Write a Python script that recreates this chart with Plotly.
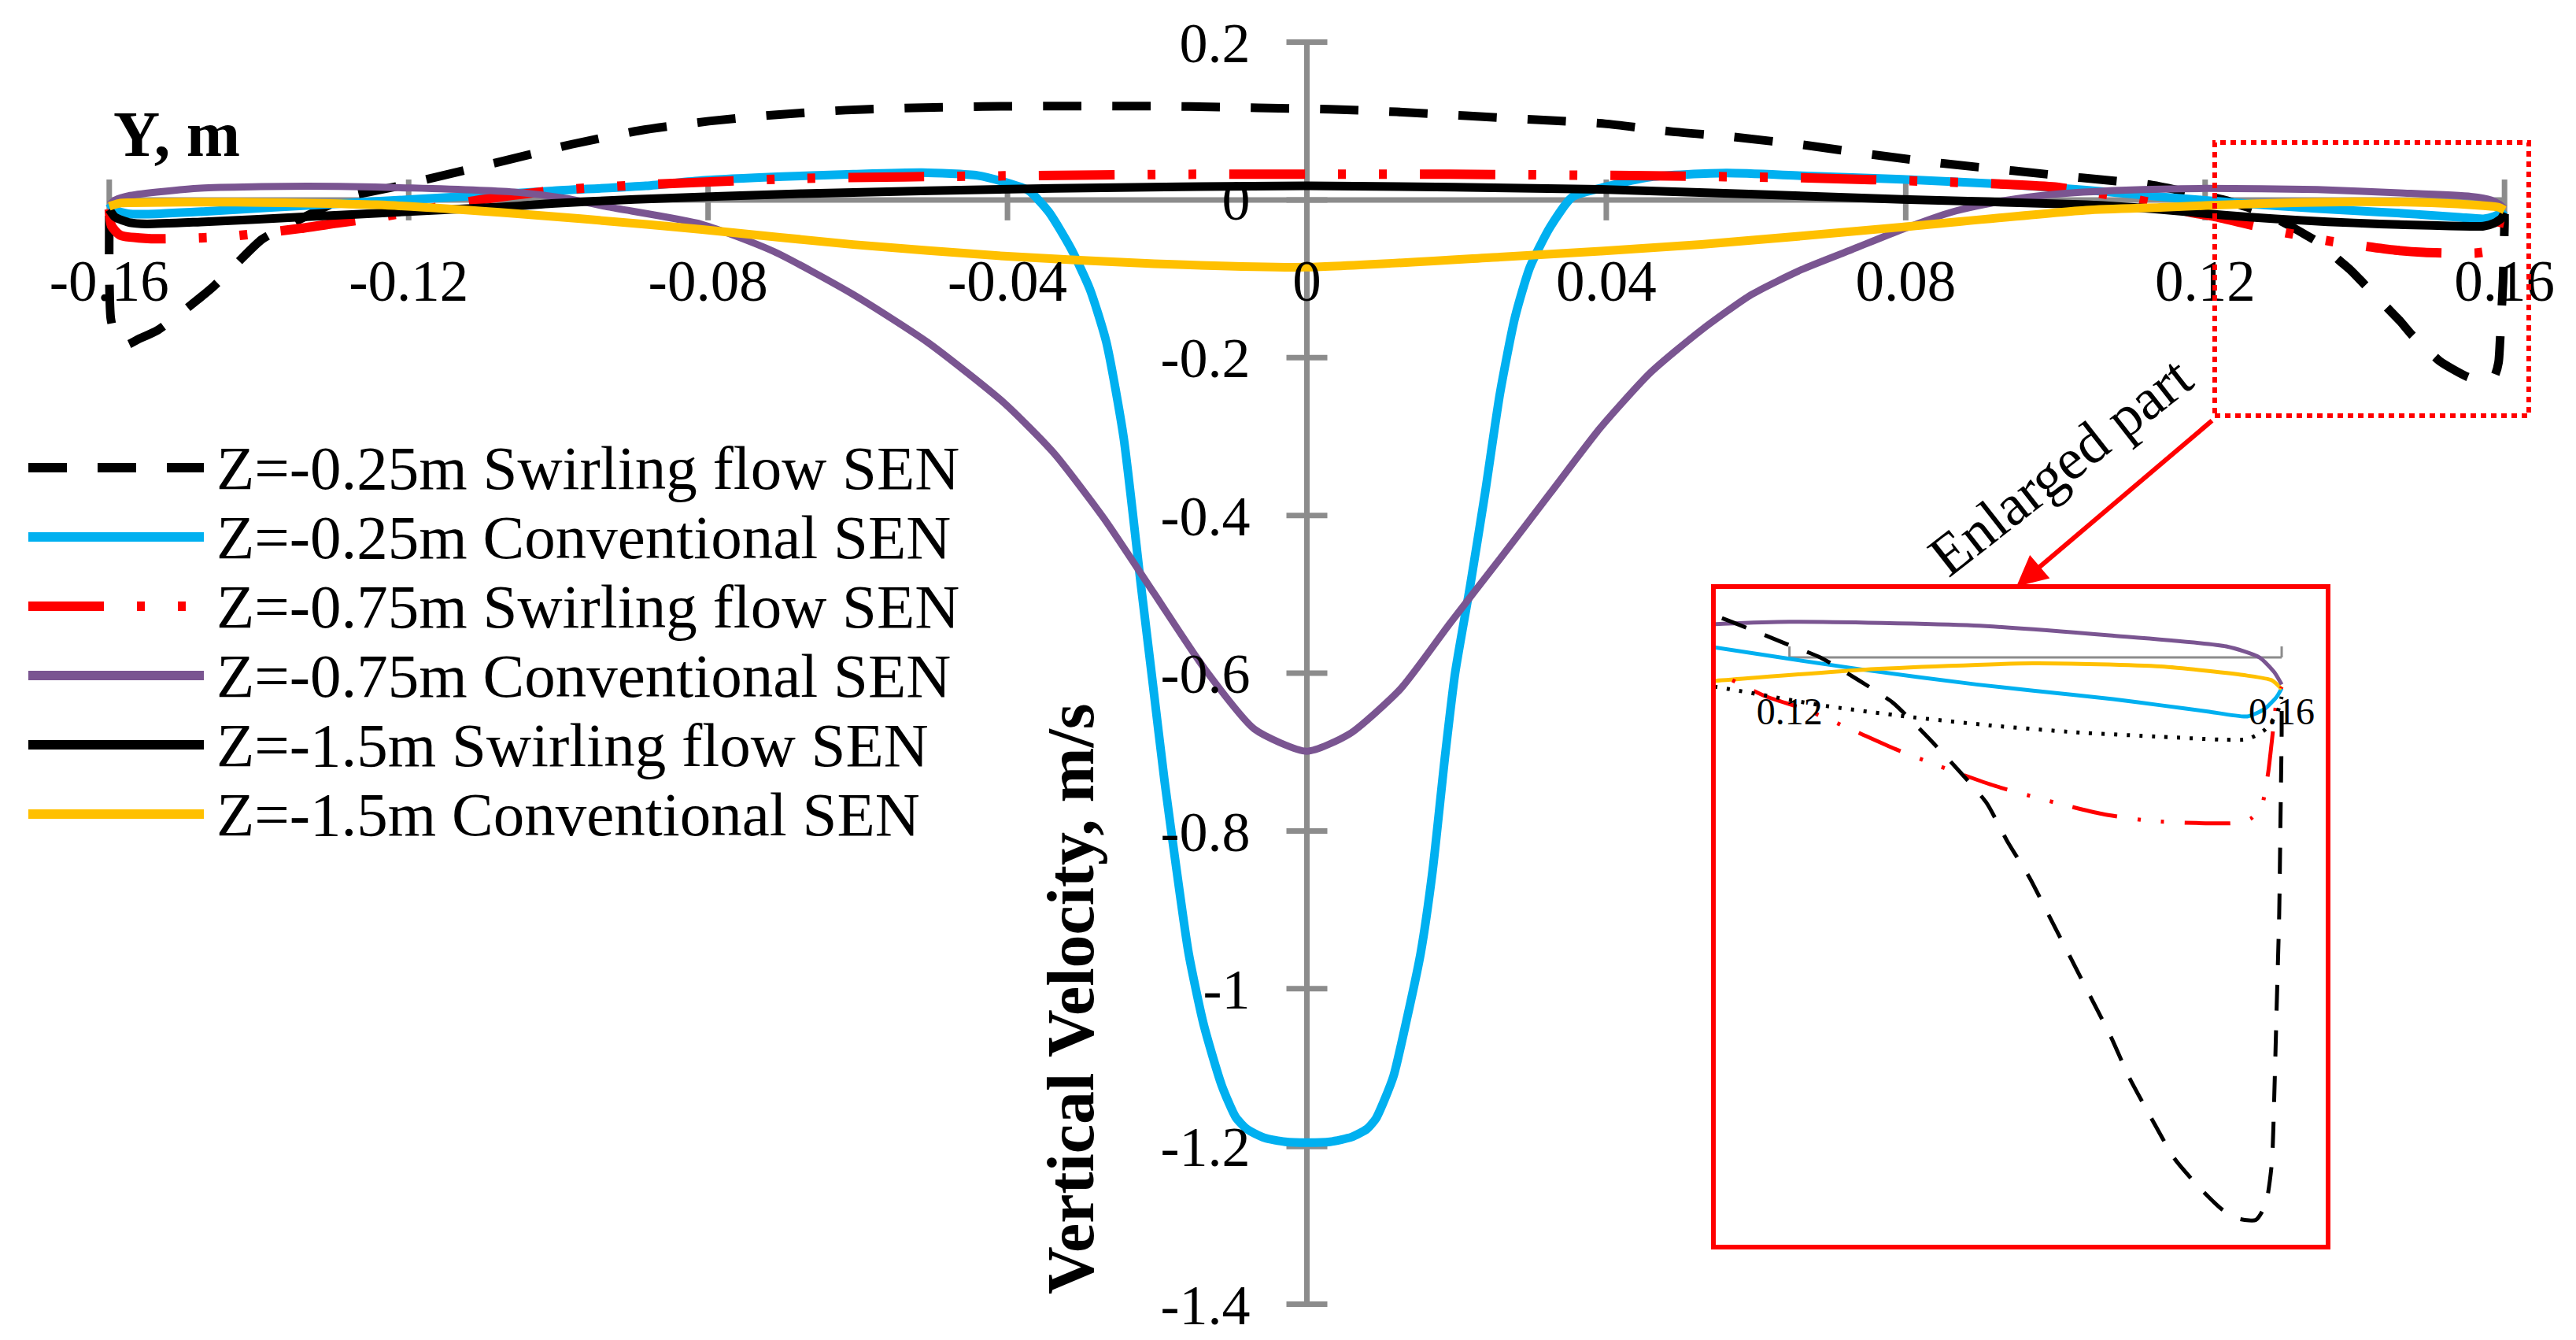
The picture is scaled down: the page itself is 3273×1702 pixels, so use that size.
import plotly.graph_objects as go

# ---------------- data ----------------
series_names = [
    "Z=-0.25m Swirling flow SEN",
    "Z=-0.25m Conventional SEN",
    "Z=-0.75m Swirling flow SEN",
    "Z=-0.75m Conventional SEN",
    "Z=-1.5m Swirling flow SEN",
    "Z=-1.5m Conventional SEN",
]

x_sw025 = [-0.16, -0.16, -0.1598, -0.1592, -0.1578, -0.1562, -0.1535, -0.1501, -0.1461, -0.143, -0.1396,
           -0.134, -0.128, -0.1216, -0.1163, -0.1072, -0.0982, -0.0891, -0.0799, -0.0708, -0.0616, -0.0525,
           -0.0433, -0.0341, -0.0249, -0.0157, -0.0065, 0.003, 0.012, 0.0213, 0.0306, 0.0398, 0.0487, 0.0568,
           0.0669, 0.0759, 0.0852, 0.0943, 0.1035, 0.1128, 0.1197, 0.1225, 0.1256, 0.1284, 0.1312, 0.1336,
           0.136, 0.1377, 0.1395, 0.1412, 0.1429, 0.1445, 0.1461, 0.1476, 0.1494, 0.1513, 0.1532, 0.1551,
           0.1565, 0.1579, 0.1587, 0.1592, 0.1594, 0.1596, 0.1598, 0.1599, 0.16, 0.16]
y_sw025 = [-0.02, -0.09, -0.15, -0.172, -0.184, -0.177, -0.165, -0.141, -0.11, -0.081, -0.05,
           -0.022, 0.004, 0.017, 0.029, 0.0497, 0.0705, 0.088, 0.0998, 0.108, 0.1138, 0.1167,
           0.1184, 0.119, 0.119, 0.1184, 0.1167, 0.115, 0.1116, 0.1066, 0.1016, 0.0966, 0.0866, 0.08,
           0.069, 0.057, 0.046, 0.037, 0.028, 0.019, 0.0056, 0.0, -0.0092, -0.0184, -0.0323, -0.0452,
           -0.0591, -0.0748, -0.0896, -0.1062, -0.1228, -0.1385, -0.1542, -0.1709, -0.1875, -0.2041, -0.2152, -0.2245,
           -0.2285, -0.229, -0.2226, -0.206, -0.1783, -0.1413, -0.1044, -0.0674, -0.0305, -0.018]

x_cv025 = [-0.16, -0.1592, -0.1575, -0.1548, -0.147, -0.1384, -0.129, -0.1195, -0.11, -0.1008, -0.0883,
           -0.0808, -0.07, -0.0606, -0.0514, -0.044, -0.0405, -0.0372, -0.0345, -0.0315, -0.029, -0.0268,
           -0.0245, -0.0222, -0.0206, -0.019, -0.0174, -0.0158, -0.0138, -0.0114, -0.0095, -0.008, -0.0057,
           -0.0029, 0.0, 0.0031, 0.006, 0.008, 0.0092, 0.0104, 0.0116, 0.0132, 0.0152, 0.0168, 0.0184,
           0.0198, 0.0218, 0.0238, 0.0258, 0.0278, 0.0298, 0.0325, 0.0355, 0.0399, 0.0459, 0.056, 0.0661,
           0.0795, 0.0929, 0.1041, 0.114, 0.126, 0.1352, 0.1398, 0.1463, 0.1502, 0.154, 0.1572, 0.1586,
           0.1596, 0.16]
y_cv025 = [-0.004, -0.013, -0.0175, -0.018, -0.0145, -0.0096, -0.0045, 0.0006, 0.0058, 0.0115, 0.0178,
           0.0245, 0.0295, 0.0325, 0.0345, 0.031, 0.0229, 0.012, -0.015, -0.062, -0.113, -0.18,
           -0.30, -0.486, -0.612, -0.738, -0.85, -0.955, -1.045, -1.122, -1.163, -1.178, -1.189,
           -1.194, -1.195, -1.194, -1.188, -1.178, -1.165, -1.14, -1.11, -1.045, -0.955, -0.85, -0.71,
           -0.60, -0.49, -0.372, -0.245, -0.149, -0.0853, -0.0344, 0.0038, 0.0165, 0.029, 0.034, 0.0306,
           0.026, 0.02, 0.0125, 0.004, -0.005, -0.011, -0.0135, -0.017, -0.0195, -0.022, -0.024, -0.021,
           -0.016, -0.0125]

x_sw075 = [-0.16, -0.1597, -0.1585, -0.1544, -0.1492, -0.1441, -0.1344, -0.1295, -0.1243, -0.1155, -0.1098,
           -0.1, -0.0875, -0.0674, -0.0405, -0.0149, 0.0, 0.0191, 0.0459, 0.0661, 0.0849, 0.0996, 0.1094,
           0.114, 0.118, 0.1213, 0.1251, 0.1286, 0.1322, 0.1367, 0.1416, 0.1454, 0.1492, 0.153, 0.1561,
           0.1575, 0.1584, 0.1589, 0.1592, 0.1596, 0.16]
y_sw075 = [-0.012, -0.033, -0.045, -0.0492, -0.0486, -0.0464, -0.0361, -0.0293, -0.0226, -0.008, 0.001,
           0.0125, 0.0197, 0.0273, 0.0305, 0.0325, 0.0325, 0.0325, 0.0305, 0.028, 0.0229, 0.0166, 0.003,
           -0.006, -0.0157, -0.0212, -0.0295, -0.0373, -0.0443, -0.0523, -0.0591, -0.0637, -0.0665, -0.0674, -0.0674,
           -0.0656, -0.06, -0.047, -0.0342, -0.0175, -0.012]

x_cv075 = [-0.16, -0.1592, -0.1572, -0.1478, -0.1336, -0.1195, -0.1054, -0.099, -0.0933, -0.0808, -0.0712,
           -0.0606, -0.0506, -0.0405, -0.0338, -0.0271, -0.0204, -0.0137, -0.007, 0.0, 0.0057, 0.0125,
           0.0191, 0.0258, 0.0325, 0.0392, 0.0459, 0.0527, 0.0594, 0.0661, 0.0728, 0.0795, 0.0862, 0.0929,
           0.0996, 0.1094, 0.12, 0.135, 0.146, 0.1555, 0.1582, 0.1594, 0.16]
y_cv075 = [-0.006, 0.0, 0.0057, 0.0149, 0.0173, 0.015, 0.0095, 0.002, -0.009, -0.031, -0.0655,
           -0.12, -0.181, -0.257, -0.321, -0.404, -0.499, -0.594, -0.671, -0.699, -0.677, -0.62,
           -0.537, -0.455, -0.372, -0.289, -0.219, -0.165, -0.12, -0.0884, -0.063, -0.0375, -0.0153, -0.0013,
           0.007, 0.0124, 0.0145, 0.013, 0.009, 0.0045, 0.0, -0.006, -0.011]

x_sw15 = [-0.16, -0.1592, -0.1572, -0.155, -0.1478, -0.1336, -0.1195, -0.1054, -0.1009, -0.0898, -0.0674,
          -0.0338, 0.0, 0.0392, 0.0795, 0.1041, 0.114, 0.1225, 0.1294, 0.1364, 0.1433, 0.1502, 0.1554,
          0.1572, 0.1586, 0.1596, 0.16]
y_sw15 = [-0.012, -0.022, -0.029, -0.0305, -0.028, -0.0214, -0.0146, -0.0078, -0.0045, 0.0006, 0.008,
          0.0146, 0.0178, 0.0134, 0.0006, -0.006, -0.012, -0.0194, -0.024, -0.0277, -0.0305, -0.0323, -0.0335,
          -0.0333, -0.0296, -0.0231, -0.016]

x_cv15 = [-0.16, -0.1585, -0.1572, -0.1431, -0.1243, -0.1054, -0.0882, -0.0808, -0.0606, -0.0405, -0.0204,
          0.0, 0.0258, 0.0527, 0.0795, 0.1041, 0.114, 0.126, 0.1398, 0.1502, 0.1572, 0.1592, 0.16]
y_cv15 = [-0.008, -0.004, -0.0035, -0.0028, -0.0062, -0.0175, -0.031, -0.0376, -0.0566, -0.0713, -0.081,
          -0.0853, -0.0725, -0.0566, -0.0344, -0.013, -0.0095, -0.005, -0.0024, -0.0037, -0.0074, -0.0093, -0.0129]

x_ticks = [-0.16, -0.12, -0.08, -0.04, 0, 0.04, 0.08, 0.12, 0.16]
x_ticktext = ["-0.16", "-0.12", "-0.08", "-0.04", "0", "0.04", "0.08", "0.12", "0.16"]
y_ticks = [0.2, 0, -0.2, -0.4, -0.6, -0.8, -1.0, -1.2, -1.4]
y_ticktext = ["0.2", "0", "-0.2", "-0.4", "-0.6", "-0.8", "-1", "-1.2", "-1.4"]
inset_ticks = [0.12, 0.16]
inset_ticktext = ["0.12", "0.16"]

# ---------------- styling ----------------
W, H = 3273, 1702
FONT = "Liberation Serif, Times New Roman, serif"
GRAY = "#8c8c8c"
colors = ["#000000", "#00b0f0", "#ff0000", "#7a5591", "#000000", "#ffc000"]
dashes = ["49px,39px", "solid", "96px,42px,10px,42px,10px,42px", "solid", "solid", "solid"]
widths = [11, 11, 12, 9, 11, 11]
inset_dashes = ["33px,25px", "solid", "58px,26px,4px,26px,4px,26px", "solid", "4px,12px", "solid"]
inset_widths = [5, 5, 5, 5, 5, 5]

xs = [x_sw025, x_cv025, x_sw075, x_cv075, x_sw15, x_cv15]
ys = [y_sw025, y_cv025, y_sw075, y_cv075, y_sw15, y_cv15]

def px(x):
    return x / W

def py(y):
    return 1 - y / H

# main plot geometry (page pixels): x 0 at 1660.5, 9510.6 px/unit; y 0 at 253.9, 1001.9 px/unit
XR = [-0.163, 0.163]
YR = [-1.43, 0.23]
x_dom = [px(1660.5 + XR[0] * 9510.6), px(1660.5 + XR[1] * 9510.6)]
y_dom = [py(253.9 - YR[0] * 1001.9), py(253.9 - YR[1] * 1001.9)]

# inset geometry
IXR = [0.11401, 0.16358]
IYR = [-0.2391, 0.0279]
ix_dom = [px(2180), px(2955)]
iy_dom = [py(1581), py(748)]

fig = go.Figure()

for i in range(6):
    fig.add_trace(go.Scatter(
        x=xs[i], y=ys[i], mode="lines", name=series_names[i], showlegend=False,
        line=dict(color=colors[i], width=widths[i], dash=dashes[i], shape="spline", smoothing=0.6),
        xaxis="x", yaxis="y", hoverinfo="skip"))

inset_order = [1, 5, 3, 2, 4, 0]
for i in inset_order:
    fig.add_trace(go.Scatter(
        x=xs[i], y=ys[i], mode="lines", name=series_names[i], showlegend=False,
        line=dict(color=colors[i], width=inset_widths[i], dash=inset_dashes[i], shape="spline", smoothing=0.6),
        xaxis="x2", yaxis="y2", hoverinfo="skip"))

shapes = []
# main axis lines
shapes.append(dict(type="line", xref="x", yref="y", x0=x_ticks[0], x1=x_ticks[-1], y0=0, y1=0,
                   line=dict(color=GRAY, width=7), layer="below"))
shapes.append(dict(type="line", xref="x", yref="y", x0=0, x1=0, y0=y_ticks[-1], y1=y_ticks[0],
                   line=dict(color=GRAY, width=7), layer="below"))
for v in x_ticks:
    shapes.append(dict(type="line", xref="x", yref="y", ysizemode="pixel", yanchor=0,
                       x0=v, x1=v, y0=-26, y1=26, line=dict(color=GRAY, width=7), layer="below"))
for v in y_ticks:
    shapes.append(dict(type="line", xref="x", yref="y", xsizemode="pixel", xanchor=0,
                       x0=-26, x1=26, y0=v, y1=v, line=dict(color=GRAY, width=7), layer="below"))

# inset axis line and ticks
shapes.append(dict(type="line", xref="x2", yref="y2", x0=inset_ticks[0], x1=inset_ticks[-1], y0=0, y1=0,
                   line=dict(color=GRAY, width=3), layer="below"))
for v in inset_ticks:
    shapes.append(dict(type="line", xref="x2", yref="y2", ysizemode="pixel", yanchor=0,
                       x0=v, x1=v, y0=0, y1=14, line=dict(color=GRAY, width=3), layer="below"))

# inset frame and dotted marker box
shapes.append(dict(type="rect", xref="paper", yref="paper", x0=px(2177), x1=px(2958), y0=py(1584), y1=py(745),
                   line=dict(color="#ff0000", width=6), fillcolor="rgba(0,0,0,0)"))
shapes.append(dict(type="rect", xref="paper", yref="paper", x0=px(2814), x1=px(3213), y0=py(528), y1=py(181),
                   line=dict(color="#ff0000", width=6, dash="7px,6px"), fillcolor="rgba(0,0,0,0)"))

# manual legend
leg_y = [594, 682, 770, 858, 946, 1034]
for i in range(6):
    shapes.append(dict(type="line", xref="paper", yref="paper", x0=px(36), x1=px(259),
                       y0=py(leg_y[i]), y1=py(leg_y[i]),
                       line=dict(color=colors[i], width=12, dash=dashes[i])))

annotations = []
for i in range(6):
    annotations.append(dict(xref="paper", yref="paper", x=px(273), y=py(leg_y[i]), xanchor="left",
                            yanchor="middle", text=series_names[i], showarrow=False,
                            font=dict(family=FONT, size=79, color="black")))

annotations.append(dict(xref="paper", yref="paper", x=px(224), y=py(170), xanchor="center", yanchor="middle",
                        text="Y, m", showarrow=False,
                        font=dict(family=FONT, size=82, color="black", weight="bold")))
annotations.append(dict(xref="paper", yref="paper", x=px(1360), y=py(1269), xanchor="center", yanchor="middle",
                        text="Vertical Velocity, m/s", textangle=-90, showarrow=False,
                        font=dict(family=FONT, size=84, color="black", weight="bold")))
annotations.append(dict(xref="paper", yref="paper", x=px(2562), y=py(745), text="", showarrow=True,
                        axref="pixel", ayref="pixel", ax=250, ay=-212, arrowhead=2, arrowsize=1.3,
                        arrowwidth=6, arrowcolor="#ff0000", standoff=0))
annotations.append(dict(xref="paper", yref="paper", x=px(2618), y=py(592), xanchor="center", yanchor="middle",
                        text="Enlarged part", textangle=-38, showarrow=False,
                        font=dict(family=FONT, size=74, color="black")))

x_pos = y_dom[0] + (0 - YR[0]) / (YR[1] - YR[0]) * (y_dom[1] - y_dom[0])
y_pos = x_dom[0] + (0 - XR[0]) / (XR[1] - XR[0]) * (x_dom[1] - x_dom[0])
ix_pos = iy_dom[0] + (0 - IYR[0]) / (IYR[1] - IYR[0]) * (iy_dom[1] - iy_dom[0])

fig.update_layout(
    width=W, height=H,
    margin=dict(l=0, r=0, t=0, b=0, pad=0, autoexpand=False),
    paper_bgcolor="white", plot_bgcolor="rgba(0,0,0,0)",
    showlegend=False,
    xaxis=dict(domain=x_dom, range=XR, anchor="free", position=x_pos, showline=False, showgrid=False,
               zeroline=False, ticks="", tickmode="array", tickvals=x_ticks, ticktext=x_ticktext,
               automargin=False, ticklabeloverflow="allow",
               tickfont=dict(family=FONT, size=73, color="black"), ticklabelstandoff=54),
    yaxis=dict(domain=y_dom, range=YR, anchor="free", position=y_pos, showline=False, showgrid=False,
               zeroline=False, ticks="", tickmode="array", tickvals=y_ticks, ticktext=y_ticktext,
               automargin=False, ticklabeloverflow="allow",
               tickfont=dict(family=FONT, size=72, color="black"), ticklabelstandoff=72),
    xaxis2=dict(domain=ix_dom, range=IXR, anchor="free", position=ix_pos, showline=False, showgrid=False,
                zeroline=False, ticks="", tickmode="array", tickvals=inset_ticks, ticktext=inset_ticktext,
                automargin=False, ticklabeloverflow="allow",
                tickfont=dict(family=FONT, size=48, color="black"), ticklabelstandoff=36),
    yaxis2=dict(domain=iy_dom, range=IYR, anchor="x2", visible=False),
    shapes=shapes,
    annotations=annotations,
)

# remove the browser's default 8px body margin so the figure fills the window exactly
fig.write_html("out.html", config={"displayModeBar": False},
               post_script="document.body.style.margin='0px';")
